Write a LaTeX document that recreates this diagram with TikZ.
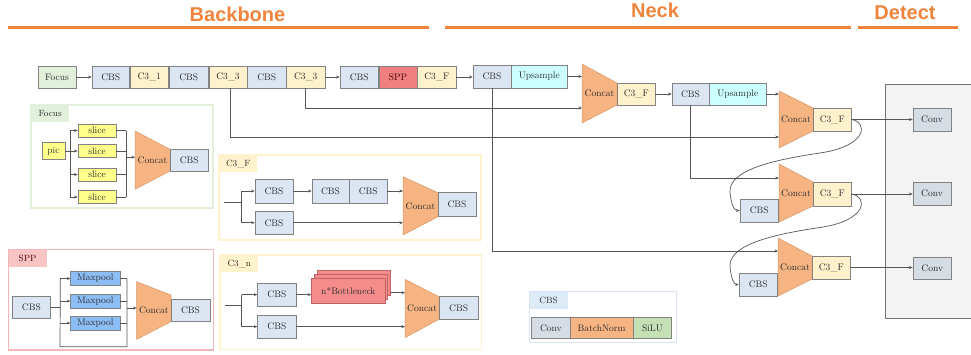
\documentclass[tikz,border=0pt]{standalone}
\usepackage{fontspec}
\newfontfamily\headfont{Liberation Sans}
\usetikzlibrary{arrows.meta,calc}

\definecolor{hdr}{RGB}{240,132,60}
\definecolor{cbsc}{RGB}{220,230,242}
\definecolor{c3c}{RGB}{255,241,204}
\definecolor{focc}{RGB}{226,239,218}
\definecolor{sppc}{RGB}{240,128,128}
\definecolor{upc}{RGB}{204,255,255}
\definecolor{catc}{RGB}{246,180,130}
\definecolor{catd}{RGB}{214,150,100}
\definecolor{convc}{RGB}{214,220,228}
\definecolor{slc}{RGB}{255,255,140}
\definecolor{mpc}{RGB}{140,190,245}
\definecolor{bnc}{RGB}{245,140,140}
\definecolor{bnd}{RGB}{190,100,100}
\definecolor{silc}{RGB}{197,224,180}
\definecolor{edge}{RGB}{130,130,130}
\definecolor{wirec}{RGB}{85,85,85}
\definecolor{txt}{RGB}{45,45,45}
\definecolor{detc}{RGB}{243,243,243}
\definecolor{greenpanel}{RGB}{226,239,218}
\definecolor{yellowpanel}{RGB}{255,242,204}
\definecolor{redpanel}{RGB}{244,182,182}
\definecolor{redtab}{RGB}{248,196,196}
\definecolor{bluepanel}{RGB}{218,227,243}
\definecolor{bluetab}{RGB}{221,235,247}

% rectangular block: name, fill, x1, y1, x2, y2, text
\newcommand{\blk}[7]{%
  \node[blk,fill=#2,minimum width={(#5)-(#3)},minimum height={(#6)-(#4)}]
    (#1) at ({((#3)+(#5))/2},{((#4)+(#6))/2}) {#7};}

% concat trapezium: name, left x, left top y, left bottom y, right x, right top y, right bottom y
\newcommand{\catblk}[7]{%
  \draw[catsh] (#2,#3) -- (#5,#6) -- (#5,#7) -- (#2,#4) -- cycle;
  \coordinate (#1-w) at (#2,{((#3)+(#4))/2});
  \node[cattxt] (#1) at ({((#2)+(#5))/2},{((#3)+(#4))/2}) {Concat};}

\begin{document}
\begin{tikzpicture}[x=1pt,y=-1pt,
  blk/.style={draw=edge,line width=0.7pt,inner sep=0pt,text=txt,
    font=\fontsize{9.5}{10}\selectfont},
  catsh/.style={fill=catc,draw=catd,line width=0.5pt},
  cattxt/.style={inner sep=0pt,text=txt,font=\fontsize{9.5}{10}\selectfont},
  tab/.style={inner sep=0pt,text=txt,font=\fontsize{9}{10}\selectfont,
    minimum height=17,minimum width=38,anchor=north west},
  wire/.style={draw=wirec,line width=0.7pt},
  arr/.style={wire,-{Stealth[length=3.5pt,width=3pt]}},
  head/.style={text=hdr,font=\headfont\bfseries\fontsize{20}{22}\selectfont,
    inner sep=0pt,anchor=base},
  hline/.style={draw=hdr,line width=2.6pt}]
\useasboundingbox (0,0) rectangle (971,354);

% ---- section headings
\node[head] (hback) at (237.5,21.7) {Backbone};
\node[head] (hneck) at (655,17.5) {Neck};
\node[head] (hdet) at (905,19.8) {Detect};
\draw[hline] (8,27.7) -- (429,27.7);
\draw[hline] (445,27.7) -- (851,27.7);
\draw[hline] (858,27.7) -- (958,27.7);

% ---- detect head frame
\draw[draw=black!55,fill=detc,line width=0.7pt] (885,84) rectangle (990,318);

% ---- backbone row
\blk{focus}{focc}{38}{66}{76}{88}{Focus}
\blk{cbs1}{cbsc}{92}{66}{129.5}{88}{CBS}
\blk{c31}{c3c}{130}{66}{168.5}{88}{C3\_1}
\blk{cbs2}{cbsc}{169}{66}{208.5}{88}{CBS}
\blk{c33a}{c3c}{209}{66}{247}{88}{C3\_3}
\blk{cbs3}{cbsc}{247.5}{66}{286}{88}{CBS}
\blk{c33b}{c3c}{286.5}{66}{325}{88}{C3\_3}
\blk{cbs4}{cbsc}{340}{66}{378.5}{88}{CBS}
\blk{spp}{sppc}{379}{66}{417}{88}{\textcolor{black!75!red}{SPP}}
\blk{c3f}{c3c}{417.5}{66}{456}{88}{C3\_F}
\draw[arr] (focus.east) -- (cbs1.west);
\draw[arr] (c33b.east) -- (cbs4.west);

% ---- neck
\blk{cbs5}{cbsc}{473}{65}{511}{88}{CBS}
\blk{up1}{upc}{511.5}{65}{567}{88}{Upsample}
\catblk{cat1}{582}{64}{123}{617}{83}{105}
\blk{c3f1}{c3c}{617.5}{83}{655}{105}{C3\_F}
\blk{cbs6}{cbsc}{672}{83}{709}{105}{CBS}
\blk{up2}{upc}{709.5}{83}{766}{105}{Upsample}
\catblk{cat2}{779}{91}{148}{813}{108}{131}
\blk{c3f2}{c3c}{813.5}{108}{851}{131}{C3\_F}
\catblk{cat3}{779}{164}{222}{813}{182}{206}
\blk{cbs7}{cbsc}{740}{199}{778.5}{222}{CBS}
\blk{c3f3}{c3c}{813.5}{182}{851}{206}{C3\_F}
\catblk{cat4}{778}{238}{296}{812}{256}{279}
\blk{cbs8}{cbsc}{739}{273}{777.5}{296}{CBS}
\blk{c3f4}{c3c}{812.5}{256}{850}{279}{C3\_F}

\blk{conv1}{convc}{913}{108}{951}{131}{Conv}
\blk{conv2}{convc}{913}{182}{951}{205}{Conv}
\blk{conv3}{convc}{913}{257}{951.5}{279}{Conv}

\draw[arr] (c3f.east) -- (cbs5.west |- c3f.east);
\draw[arr] (up1.east) -- (up1.east -| cat1-w);
\draw[arr] (c3f1.east) -- (cbs6.west);
\draw[arr] (up2.east) -- (up2.east -| cat2-w);
\draw[arr] ([xshift=2.7pt]c33a.south) |- ($(cat2-w)+(0,17.5)$);
\draw[arr] (c33b.south) |- ($(cat1-w)+(0,14.5)$);
\draw[arr] (cbs5.south) |- ($(cat4-w)+(0,-16)$);
\draw[arr] (cbs6.south) |- ($(cat3-w)+(0,-15)$);

\draw[arr] (c3f2.east) -- (conv1.west);
\draw[arr] (c3f3.east) -- (c3f3.east -| conv2.west);
\draw[arr] (c3f4.east) -- (c3f4.east -| conv3.west);

\draw[arr] (c3f2.east) .. controls (868,122) and (868,146) .. (820,153)
  .. controls (765,161) and (729,172) .. (730,192)
  .. controls (731,204) and (734,210.5) .. (cbs7.west);
\draw[arr] (c3f3.east) .. controls (868,196.5) and (868,220.5) .. (820,227.5)
  .. controls (765,235.5) and (729,246.5) .. (730,266.5)
  .. controls (731,278.5) and (734,284.5) .. (cbs8.west);

% ---- Focus module
\draw[draw=greenpanel,line width=1.2pt] (31,105) rectangle (213,208);
\node[tab,fill=greenpanel] (tfocus) at (31,105) {Focus};
\blk{pic}{slc}{42}{142.5}{65}{159.5}{pic}
\blk{sl1}{slc}{78}{124}{116}{137}{slice}
\blk{sl2}{slc}{78}{144.5}{116}{157.5}{slice}
\blk{sl3}{slc}{78}{168}{116}{181}{slice}
\blk{sl4}{slc}{78}{190.5}{116}{203.5}{slice}
\catblk{catf}{135}{131}{189.3}{170}{149.3}{171}
\blk{cbsf}{cbsc}{170}{149.3}{208.5}{171}{CBS}
\draw[wire] (pic.east) -- ++(5,0) coordinate (fsplit);
\draw[wire] (fsplit |- sl1) -- (fsplit |- sl4);
\path (sl1.east) ++(10,0) coordinate (fjoin);
\draw[wire] (fjoin |- sl1) -- (fjoin |- sl4);
\foreach \s in {sl1,sl2,sl3,sl4}{
  \draw[arr] (fsplit |- \s) -- (\s.west);
  \draw[wire] (\s.east) -- (fjoin |- \s);}
\draw[arr] ($(fjoin |- catf-w)+(0,-3)$) -- ($(catf-w)+(0,-3)$);

% ---- C3_F module
\draw[draw=yellowpanel,line width=1.2pt] (219,155) rectangle (481,240);
\node[tab,fill=yellowpanel] (tc3f) at (219,155) {C3\_F};
\blk{fa}{cbsc}{255}{179}{293}{203}{CBS}
\blk{fb}{cbsc}{312}{179}{349}{203}{CBS}
\blk{fc}{cbsc}{349.5}{179}{387}{203}{CBS}
\blk{fd}{cbsc}{255}{211.5}{293}{234}{CBS}
\catblk{catF}{403}{176.7}{235}{438}{192.7}{216.7}
\blk{fout}{cbsc}{438}{192.7}{476}{216.7}{CBS}
\coordinate (fin) at (224,202);
\draw[wire] (fin) -- ++(17,0) coordinate (fsp);
\draw[wire] (fsp |- fa) -- (fsp |- fd);
\draw[arr] (fsp |- fa) -- (fa.west);
\draw[arr] (fsp |- fd) -- (fd.west);
\draw[arr] (fa.east) -- (fb.west);
\draw[arr] (fc.east) -- (fc.east -| catF-w);
\draw[arr] (fd.east) -- (fd.east -| catF-w);

% ---- SPP module
\draw[draw=redpanel,line width=1.2pt] (8.3,249.3) rectangle (213.3,350);
\node[tab,fill=redtab,text=black!70!red] (tspp) at (8.3,249.3) {SPP};
\blk{scbs}{cbsc}{12.7}{296}{50}{318.3}{CBS}
\blk{mp1}{mpc}{70.7}{271.5}{120}{285.5}{Maxpool}
\blk{mp2}{mpc}{70.7}{294}{120}{308}{Maxpool}
\blk{mp3}{mpc}{70.7}{316}{120}{330}{Maxpool}
\catblk{catS}{136.7}{281.7}{339.3}{171}{295}{321.7}
\blk{sout}{cbsc}{171}{299.3}{210}{321.7}{CBS}
\draw[wire] (scbs.east) -- ++(10,0) coordinate (ssp);
\path (mp1.east) ++(6.7,0) coordinate (sjn);
\coordinate (sbot) at (60,346.7);
\draw[wire] (ssp |- mp1) -- (sbot) -- (sbot -| sjn) -- (sjn |- mp1);
\foreach \m in {mp1,mp2,mp3}{
  \draw[arr] (ssp |- \m) -- (\m.west);
  \draw[wire] (\m.east) -- (sjn |- \m);}
\draw[arr] ($(sjn |- catS-w)+(0,-2.5)$) -- ($(catS-w)+(0,-2.5)$);

% ---- C3_n module
\draw[draw=yellowpanel,line width=1.2pt] (220,255) rectangle (481.7,349.3);
\node[tab,fill=yellowpanel] (tc3n) at (220,255) {C3\_n};
\blk{na}{cbsc}{257.7}{283.3}{296}{306}{CBS}
\blk{nb}{cbsc}{257.7}{315}{296}{338.3}{CBS}
\foreach \k in {2,1}{
  \draw[fill=bnc,draw=bnd,line width=0.6pt]
    ({311.7+2.6*\k},{278.3-3.8*\k}) rectangle ({385+2.6*\k},{303.3-3.8*\k});}
\node[blk,fill=bnc,draw=bnd,minimum width=73.3,minimum height=25]
  (bneck) at (348.35,290.8) {n*Bottleneck};
\catblk{catN}{405}{279.3}{337.7}{439}{296.7}{319.3}
\blk{nout}{cbsc}{439}{296.7}{478.3}{319.3}{CBS}
\coordinate (nin) at (225,305);
\draw[wire] (nin) -- ++(16.7,0) coordinate (nsp);
\draw[wire] (nsp |- na) -- (nsp |- nb);
\draw[arr] (nsp |- na) -- (na.west);
\draw[arr] (nsp |- nb) -- (nb.west);
\draw[arr] (na.east) -- (na.east -| bneck.west);
\draw[arr] ($(bneck.east)+(5.2,1.9)$) -- ($(bneck.east -| catN-w)+(0,1.9)$);
\draw[arr] (nb.east) -- (nb.east -| catN-w);

% ---- CBS legend
\draw[draw=bluepanel,line width=1.2pt] (529.3,291.7) rectangle (676.7,342.7);
\node[tab,fill=bluetab] (tcbs) at (529.3,291.7) {CBS};
\blk{lconv}{convc}{531.7}{317.3}{570}{338.3}{Conv}
\blk{lbn}{catc}{570}{317.3}{633.3}{338.3}{BatchNorm}
\blk{lsilu}{silc}{633.3}{317.3}{671.7}{338.3}{SiLU}
\end{tikzpicture}
\end{document}
